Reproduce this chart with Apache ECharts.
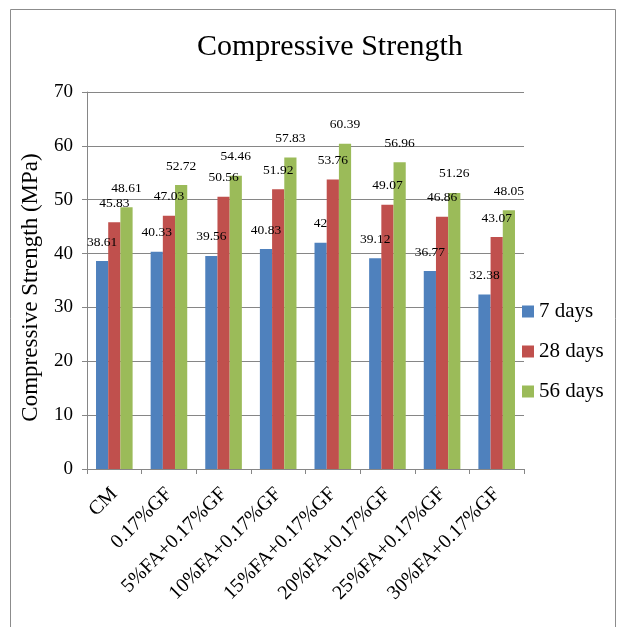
<!DOCTYPE html>
<html>
<head>
<meta charset="utf-8">
<script src="https://cdn.jsdelivr.net/npm/echarts@6/dist/echarts.min.js"></script>
<style>
html,body{margin:0;padding:0;background:#fff;}
#c{width:626px;height:627px;}
</style>
</head>
<body>
<div id="c"></div>
<script>
const categories = ['CM', '0.17%GF', '5%FA+0.17%GF', '10%FA+0.17%GF', '15%FA+0.17%GF', '20%FA+0.17%GF', '25%FA+0.17%GF', '30%FA+0.17%GF'];
const days7 = [38.61, 40.33, 39.56, 40.83, 42, 39.12, 36.77, 32.38];
const days28 = [45.83, 47.03, 50.56, 51.92, 53.76, 49.07, 46.86, 43.07];
const days56 = [48.61, 52.72, 54.46, 57.83, 60.39, 56.96, 51.26, 48.05];
const seriesNames = ['7 days', '28 days', '56 days'];
const yTicks = [0, 10, 20, 30, 40, 50, 60, 70];

const FONT = '"Liberation Serif", "Times New Roman", serif';
const colors = ['#4F81BD', '#C0504D', '#9BBB59'];
const axisGray = '#868686';

const chart = echarts.init(document.getElementById('c'));
const mk = (name, data, color) => ({
  name: name,
  type: 'bar',
  data: data,
  barGap: '0%',
  barCategoryGap: '33%',
  itemStyle: { color: color },
  label: {
    show: true,
    position: 'top',
    distance: 12,
    color: '#000',
    fontFamily: FONT,
    fontSize: 13.5
  }
});
chart.setOption({
  animation: false,
  backgroundColor: '#fff',
  textStyle: { fontFamily: FONT },
  title: {
    text: 'Compressive Strength',
    left: 192,
    top: 27,
    textStyle: { fontFamily: FONT, fontSize: 30, fontWeight: 'normal', color: '#000' }
  },
  graphic: [{
    type: 'rect',
    shape: { x: 10.5, y: 9.5, width: 605, height: 640 },
    style: { fill: 'none', stroke: '#8c8c8c', lineWidth: 1 },
    silent: true
  }],
  legend: {
    orient: 'vertical',
    left: 517,
    top: 296,
    itemWidth: 12,
    itemHeight: 12,
    itemGap: 19,
    icon: 'rect',
    data: seriesNames,
    textStyle: { fontFamily: FONT, fontSize: 21, color: '#000', lineHeight: 21 }
  },
  grid: { left: 87, right: 102, top: 92, bottom: 158, containLabel: false },
  xAxis: {
    type: 'category',
    data: categories,
    axisLine: { lineStyle: { color: axisGray, width: 1 } },
    axisTick: { show: true, alignWithLabel: false, length: 5, lineStyle: { color: axisGray } },
    axisLabel: {
      rotate: 45,
      interval: 0,
      margin: 22,
      color: '#000',
      fontFamily: FONT,
      fontSize: 20
    }
  },
  yAxis: {
    type: 'value',
    min: yTicks[0],
    max: yTicks[yTicks.length - 1],
    interval: 10,
    name: 'Compressive Strength (MPa)',
    nameLocation: 'middle',
    nameGap: 45,
    nameTextStyle: { fontFamily: FONT, fontSize: 23, color: '#000', padding: [0, 14, 0, 0] },
    axisLine: { show: true, lineStyle: { color: axisGray, width: 1 } },
    axisTick: { show: true, length: 5, lineStyle: { color: axisGray } },
    axisLabel: { margin: 14, color: '#000', fontFamily: FONT, fontSize: 19 },
    splitLine: { show: true, lineStyle: { color: axisGray, width: 1 } }
  },
  series: [
    mk(seriesNames[0], days7, colors[0]),
    mk(seriesNames[1], days28, colors[1]),
    mk(seriesNames[2], days56, colors[2])
  ]
});
</script>
</body>
</html>
